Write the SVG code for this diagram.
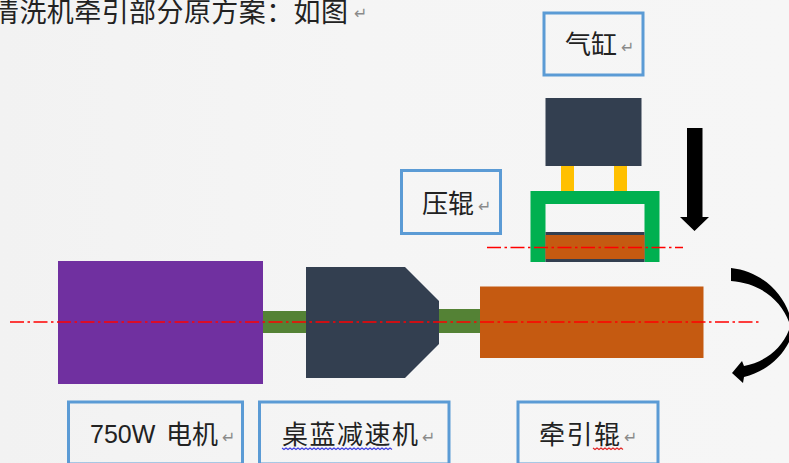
<svg xmlns="http://www.w3.org/2000/svg" width="789" height="463" viewBox="0 0 789 463">
  <defs>
    <linearGradient id="bg" x1="0" y1="0" x2="1" y2="0">
      <stop offset="0" stop-color="#f2f2f2"/>
      <stop offset="0.45" stop-color="#f5f5f5"/>
      <stop offset="1" stop-color="#f6f6f6"/>
    </linearGradient>
  </defs>
  <style>
    .box { fill: none; stroke: #5b9bd5; stroke-width: 3; }
    .t { font-family: "Noto Sans CJK SC", "Liberation Sans", sans-serif; font-size: 26px; fill: #222222; font-weight: 400; }
    .ret { font-family: "DejaVu Sans", sans-serif; font-size: 16px; fill: #8a8a8a; }
    .dark { fill: #333f50; }
    .shaft { fill: #548235; }
    .roller { fill: #c55a11; }
    .rod { fill: #ffc000; }
    .centre { fill: none; stroke: #ff0000; stroke-width: 1.6; stroke-dasharray: 14 3.5 2.5 3.500; }
    .wavy { fill: none; stroke-width: 1.1; }
  </style>
  <rect width="789" height="463" fill="url(#bg)"/>

  <g id="title">
    <text class="t" x="-8" y="22" style="font-size:27px" textLength="356" lengthAdjust="spacing">清洗机牵引部分原方案：如图</text>
    <text class="ret" x="354" y="19">↵</text>
  </g>

  <g id="motor"><rect x="58" y="261" width="205" height="123" fill="#7030a0"/></g>
  <g id="shaft-1"><rect class="shaft" x="263" y="311" width="43" height="22"/></g>
  <g id="reducer"><polygon class="dark" points="306,267 405,267 439,301 439,344 405,378 306,378"/></g>
  <g id="shaft-2"><rect class="shaft" x="439" y="309" width="41" height="24"/></g>
  <g id="traction-roller"><rect class="roller" x="480" y="286.500" width="223.500" height="71.500"/></g>

  <g id="cylinder">
    <rect class="rod" x="561" y="166" width="13" height="25"/>
    <rect class="rod" x="614" y="166" width="13" height="25"/>
    <rect class="dark" x="545.500" y="98" width="96" height="68"/>
  </g>
  <g id="pressure-roller">
    <path fill="#00b050" d="M530.500,191H659.500V262H644.500V204H545.500V262H530.500Z"/>
    <rect class="dark" x="545.500" y="232" width="99" height="30"/>
    <rect class="roller" x="545.500" y="235" width="99" height="24"/>
  </g>

  <g id="connectors">
    <line class="centre" x1="10" y1="322" x2="759" y2="322"/>
    <line class="centre" x1="487" y1="247.500" x2="683" y2="247.500"/>
    <polygon id="press-arrow" fill="#000000" points="687,128 702.500,128 702.500,217 709,217 694.500,231 680,217 687,217"/>
    <path id="rotation-arrow" fill="#000000" d="M731,268 C760,271 781,291 789,313 L789,342 C781,358 765,372 744,377 L743,383 L732,373 L742,361 L744,366 C764,362 781,350 789,330 L789,322 C781,300 760,283 731,281 Z"/>
  </g>

  <g id="label-cylinder">
    <rect class="box" x="544" y="13" width="99" height="62"/>
    <text class="t" x="565" y="54">气缸</text>
    <text class="ret" x="621" y="53">↵</text>
  </g>
  <g id="label-press-roller">
    <rect class="box" x="401.500" y="170.500" width="99" height="63"/>
    <text class="t" x="422" y="213">压辊</text>
    <text class="ret" x="478" y="212">↵</text>
  </g>
  <g id="label-motor">
    <rect class="box" x="68.500" y="402" width="174" height="62"/>
    <text class="t" x="90" y="443" style="font-family:'Liberation Sans',sans-serif;font-size:25px">750W</text>
    <text class="t" x="166" y="444">电机</text>
    <text class="ret" x="222" y="443">↵</text>
  </g>
  <g id="label-reducer">
    <rect class="box" x="259.500" y="402" width="189.500" height="62"/>
    <text class="t" x="282" y="444" textLength="136">桌蓝减速机</text>
    <text class="ret" x="422" y="443">↵</text>
    <path class="wavy" stroke="#3a3ae0" d="M282,448 l2,1.500 l2,-1.500 l2,1.500 l2,-1.500 l2,1.500 l2,-1.500 l2,1.500 l2,-1.500 l2,1.500 l2,-1.500 l2,1.500 l2,-1.500 l2,1.500 l2,-1.500 l2,1.500 l2,-1.500 l2,1.500 l2,-1.500 l2,1.500 l2,-1.500 l2,1.500 l2,-1.500 l2,1.500 l2,-1.500 l2,1.500 l2,-1.500 l2,1.500 l2,-1.500 l2,1.500 l2,-1.500 l2,1.500 l2,-1.500 l2,1.500 l2,-1.500 l2,1.500 l2,-1.500 l2,1.500 l2,-1.500 l2,1.500 l2,-1.500 l2,1.500 l2,-1.500 l2,1.500 l2,-1.500 l2,1.500 l2,-1.500 l2,1.500 l2,-1.500 l2,1.500 l2,-1.500 l2,1.500 l2,-1.500 l2,1.500 l2,-1.500 l2,1.500"/>
  </g>
  <g id="label-traction-roller">
    <rect class="box" x="518" y="402" width="140" height="62"/>
    <text class="t" x="539" y="444" textLength="81">牵引辊</text>
    <text class="ret" x="624" y="443">↵</text>
    <path class="wavy" stroke="#e02020" d="M593,448 l2,1.500 l2,-1.500 l2,1.500 l2,-1.500 l2,1.500 l2,-1.500 l2,1.500 l2,-1.500 l2,1.500 l2,-1.500 l2,1.500 l2,-1.500 l2,1.500 l2,-1.500 l2,1.500"/>
  </g>
</svg>
